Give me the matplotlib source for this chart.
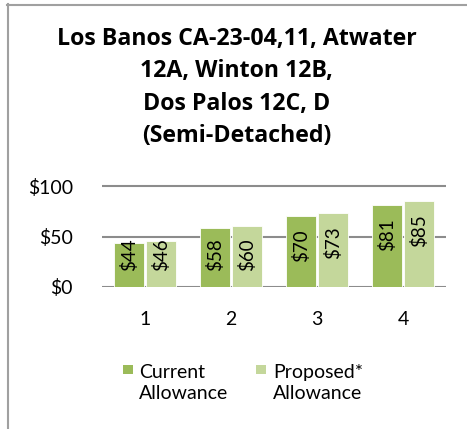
import numpy as np
import matplotlib
matplotlib.use('Agg')
import matplotlib.pyplot as plt
from matplotlib.lines import Line2D
from matplotlib.patches import Rectangle

plt.rcParams['font.family'] = ['Lato', 'DejaVu Sans']

# data
categories = ['1', '2', '3', '4']
current = [44, 58, 70, 81]
proposed = [46, 60, 73, 85]
series_names = ['Current\nAllowance', 'Proposed*\nAllowance']
yticks = [0, 50, 100]
ytick_labels = ['$0', '$50', '$100']
title = 'Los Banos CA-23-04,11, Atwater\n12A, Winton 12B,\nDos Palos 12C, D\n(Semi-Detached)'

c_cur = '#9BBB59'
c_pro = '#C4D79B'
grid_c = '#8C8C8C'

W, H = 467, 429
fig = plt.figure(figsize=(W / 100, H / 100), dpi=100)

# chart frame (left and top edges only visible)
fig.add_artist(Line2D([7.5 / W, 7.5 / W], [0, 1 - 4 / H], color='#A0A0A0', lw=1.5, transform=fig.transFigure))
fig.add_artist(Line2D([7 / W, 1], [1 - 4.5 / H, 1 - 4.5 / H], color='#A0A0A0', lw=1.5, transform=fig.transFigure))

# axes: x 102..446 px, y $0 at 287 px, $100 at 186 px
y0_px, y100_px = 287, 186
ax_bottom = 1 - y0_px / H
ax_h = (y0_px - y100_px) / H * 1.05
ax = fig.add_axes([102 / W, ax_bottom, (446 - 102) / W, ax_h])
ax.set_ylim(0, 105)
ax.set_xlim(-0.5, len(categories) - 0.5)

x = np.arange(len(categories))
bw = 0.345
gap = 0.012
b1 = ax.bar(x - bw / 2 - gap, current, bw, color=c_cur, edgecolor='white', linewidth=0.6, zorder=3)
b2 = ax.bar(x + bw / 2 + gap, proposed, bw, color=c_pro, edgecolor='white', linewidth=0.6, zorder=3)

for bars, vals in ((b1, current), (b2, proposed)):
    for rect, v in zip(bars, vals):
        yc = max(v - 29, 32)
        ax.text(rect.get_x() + rect.get_width() / 2, yc, '$%d' % v, rotation=90,
                ha='center', va='center', fontsize=13.5, color='black', zorder=4)

for yv in yticks:
    ax.axhline(yv, color=grid_c, lw=1.5, zorder=1)

for s in ax.spines.values():
    s.set_visible(False)
ax.set_yticks(yticks)
ax.set_yticklabels(ytick_labels, fontsize=14)
ax.set_xticks(x)
ax.set_xticklabels(categories, fontsize=14)
ax.tick_params(length=0)
ax.tick_params(axis='y', pad=21)
ax.tick_params(axis='x', pad=17)

fig.text(236.5 / W, 1 - 87.5 / H, title, ha='center', va='center', fontsize=16.7,
         fontweight='bold', family=['Open Sans', 'DejaVu Sans'], linespacing=1.45)

# legend, marker aligned with first text line
for (mx, tx), col, name in zip(((123, 139), (256, 273)), (c_cur, c_pro), series_names):
    fig.add_artist(Rectangle((mx / W, 1 - 374 / H), 10 / W, 9 / H, facecolor=col,
                             edgecolor='none', transform=fig.transFigure))
    fig.text(tx / W, 1 - 383 / H, name, ha='left', va='center', fontsize=14, linespacing=1.3)

fig.savefig('out.png', dpi=100, facecolor='white')
